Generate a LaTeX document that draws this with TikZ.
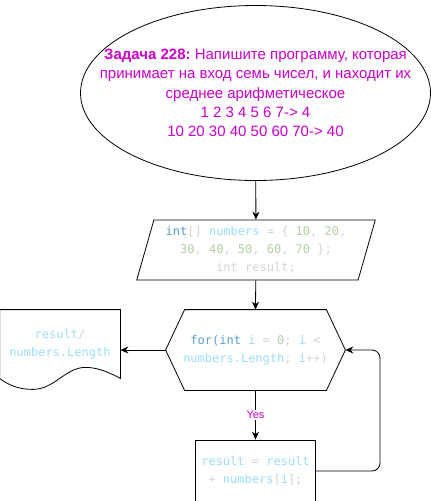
\documentclass[tikz,border=0pt]{standalone}
\usepackage{fontspec}
\setmainfont{Liberation Sans}
\setmonofont{DejaVu Sans Mono}
\usetikzlibrary{shapes.geometric,arrows.meta,positioning}
\definecolor{task}{HTML}{CC00CC}
\definecolor{kwblue}{HTML}{569CD6}
\definecolor{varblue}{HTML}{9CDCFE}
\definecolor{numgreen}{HTML}{B5CEA8}
\definecolor{punctgrey}{HTML}{D4D4D4}
\newcommand{\ckw}[1]{\textcolor{kwblue}{#1}}
\newcommand{\cvar}[1]{\textcolor{varblue}{#1}}
\newcommand{\cnum}[1]{\textcolor{numgreen}{#1}}
\newcommand{\cpun}[1]{\textcolor{punctgrey}{#1}}
\frenchspacing

\begin{document}
\begin{tikzpicture}[
  x=1pt, y=-1pt,
  line width=0.8pt, >={Stealth[length=8pt,width=7pt]},
  task/.style={draw, ellipse, minimum width=350pt, minimum height=175pt, inner sep=0pt,
    inner xsep=-60pt, align=center, text=task, font=\fontsize{15}{19.3}\selectfont},
  code/.style={align=center, font=\fontsize{12}{18}\selectfont\ttfamily, text=punctgrey},
  inputbox/.style={draw, trapezium, trapezium left angle=72, trapezium right angle=108,
    trapezium stretches=true, minimum width=239pt, minimum height=60pt, inner sep=0pt},
  stepbox/.style={draw, minimum width=120pt, minimum height=62pt, inner sep=0pt},
  yeslabel/.style={fill=white, text=task, font=\fontsize{11}{13}\selectfont, inner sep=1pt}
]
\useasboundingbox (0,0) rectangle (431,501);

\node[task] (task) at (255.5,93)
  {\textbf{Задача 228:} Напишите программу, которая\\
   принимает на вход семь чисел, и находит их\\
   среднее арифметическое\\
   1 2 3 4 5 6 7-> 4\\
   10 20 30 40 50 60 70-> 40};

\node[inputbox, code] (init) at (256,250)
  {\ckw{int}[] \cvar{numbers} = \{ \cnum{10}, \cnum{20},\\
   \cnum{30}, \cnum{40}, \cnum{50}, \cnum{60}, \cnum{70} \};\\
   int result;};

% loop header (hexagon drawn round the node)
\node[code, minimum width=179pt, minimum height=80pt, inner sep=0pt] (loop) at (255.5,350)
  {\ckw{for(int} \cvar{i} = \cnum{0}; \cvar{i} <\\
   \cvar{numbers.Length}; \cvar{i}++)};
\draw (loop.west) -- ([xshift=19pt]loop.north west) -- ([xshift=-19pt]loop.north east)
  -- (loop.east) -- ([xshift=-19pt]loop.south east) -- ([xshift=19pt]loop.south west) -- cycle;

% output document shape
\node[code, minimum width=120pt, minimum height=68pt, inner sep=0pt] (result) at (60,344)
  {\cvar{result}/\\ \cvar{numbers.Length}};
\draw (result.south west) -- (result.north west) -- (result.north east) -- (result.south east)
  .. controls +(-15,-8) and +(10,0) .. ([shift={(-35,-11)}]result.south east)
  .. controls +(-20,0) and +(22,0) .. ([shift={(33,11)}]result.south west)
  .. controls +(-15,0) and +(8,6) .. (result.south west);

\node[stepbox, code] (sum) at (255.5,471)
  {\cvar{result} = \cvar{result}\\ + \cvar{numbers}[\cvar{i}];};

\draw[->] (task) -- (init);
\draw[->] (init) -- (loop.north);
\draw[->] (loop.west) -- (loop.west -| result.east);
\draw[->] (loop.south) -- node[yeslabel] {Yes} (sum);
\draw[->, rounded corners=8pt] (sum.east) -| (380,350) -- (loop.east);
\end{tikzpicture}
\end{document}
